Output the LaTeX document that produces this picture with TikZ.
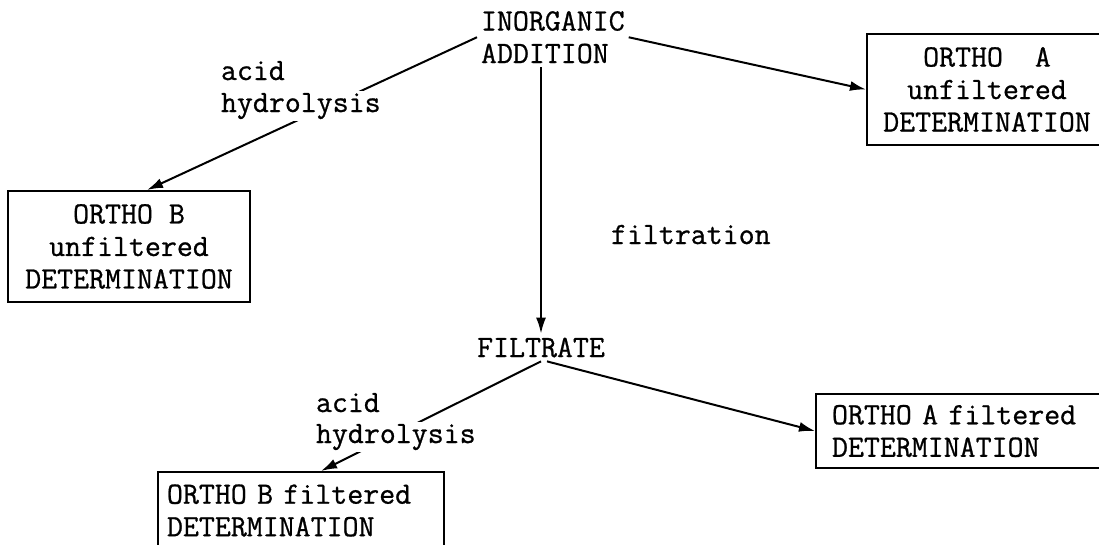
\documentclass[tikz,border=0pt]{standalone}
\usepackage{fontspec}
\setmonofont{Latin Modern Mono}[Ligatures=CommonOff, FakeBold=0.8]
\usetikzlibrary{arrows.meta}
\tikzset{>={Latex[width=10pt,length=16pt]}}

\begin{document}
\begin{tikzpicture}[x=1pt, y=-1pt, line width=2pt, every node/.style={font=\ttfamily\fontsize{31}{32.5}\selectfont}, stage/.style={draw=none, align=left, inner sep=3pt}, result/.style={draw=black, line width=2pt, align=center, inner sep=0pt}, note/.style={draw=none, fill=white, inner sep=2pt}]

    \clip (0,0) rectangle (1099,544);
    \fill[white] (0,0) rectangle (1099,544);

    %Nodes
    \node[stage, anchor=base west](addition) at (477,63) {INORGANIC\\ADDITION};
    \node[stage, anchor=base](filtrate) at (541,357) {FILTRATE};
    \node[result, minimum width=240pt, minimum height=111pt](orthoAu) at (987,89.5) {ORTHO~~A\\unfiltered\\DETERMINATION};
    \node[result, minimum width=242pt, minimum height=111pt](orthoBu) at (129,246.5) {ORTHO B\\unfiltered\\DETERMINATION};
    \node[result, align=left, anchor=north west, text width=266pt, inner xsep=16pt, minimum height=74pt](orthoAf) at (815,393) {ORTHO A filtered\\DETERMINATION};
    \node[result, align=left, anchor=north west, text width=268pt, inner xsep=9pt, minimum height=77pt](orthoBf) at (157,471) {ORTHO B filtered\\DETERMINATION};

    %Lines
    \draw[->] (addition.west) -- ([xshift=18pt]orthoBu.north);
    \draw[->] (addition.east) -- (orthoAu.west);
    \draw[->] (filtrate.north |- addition.south) -- (filtrate.north);
    \draw[->] (filtrate.south) -- ([xshift=20pt]orthoBf.north);
    \draw[->] ([xshift=6pt]filtrate.south) -- (orthoAf.west);

    %Labels
    \node[note, anchor=base west](acidtop) at (218,80) {acid};
    \node[note, anchor=base west](hydrotop) at (218,112) {hydrolysis};
    \node[note, anchor=base west](filtration) at (608,244) {filtration};
    \node[note, anchor=base west](acidlow) at (313,412) {acid};
    \node[note, anchor=base west](hydrolow) at (313,443) {hydrolysis};

\end{tikzpicture}
\end{document}
